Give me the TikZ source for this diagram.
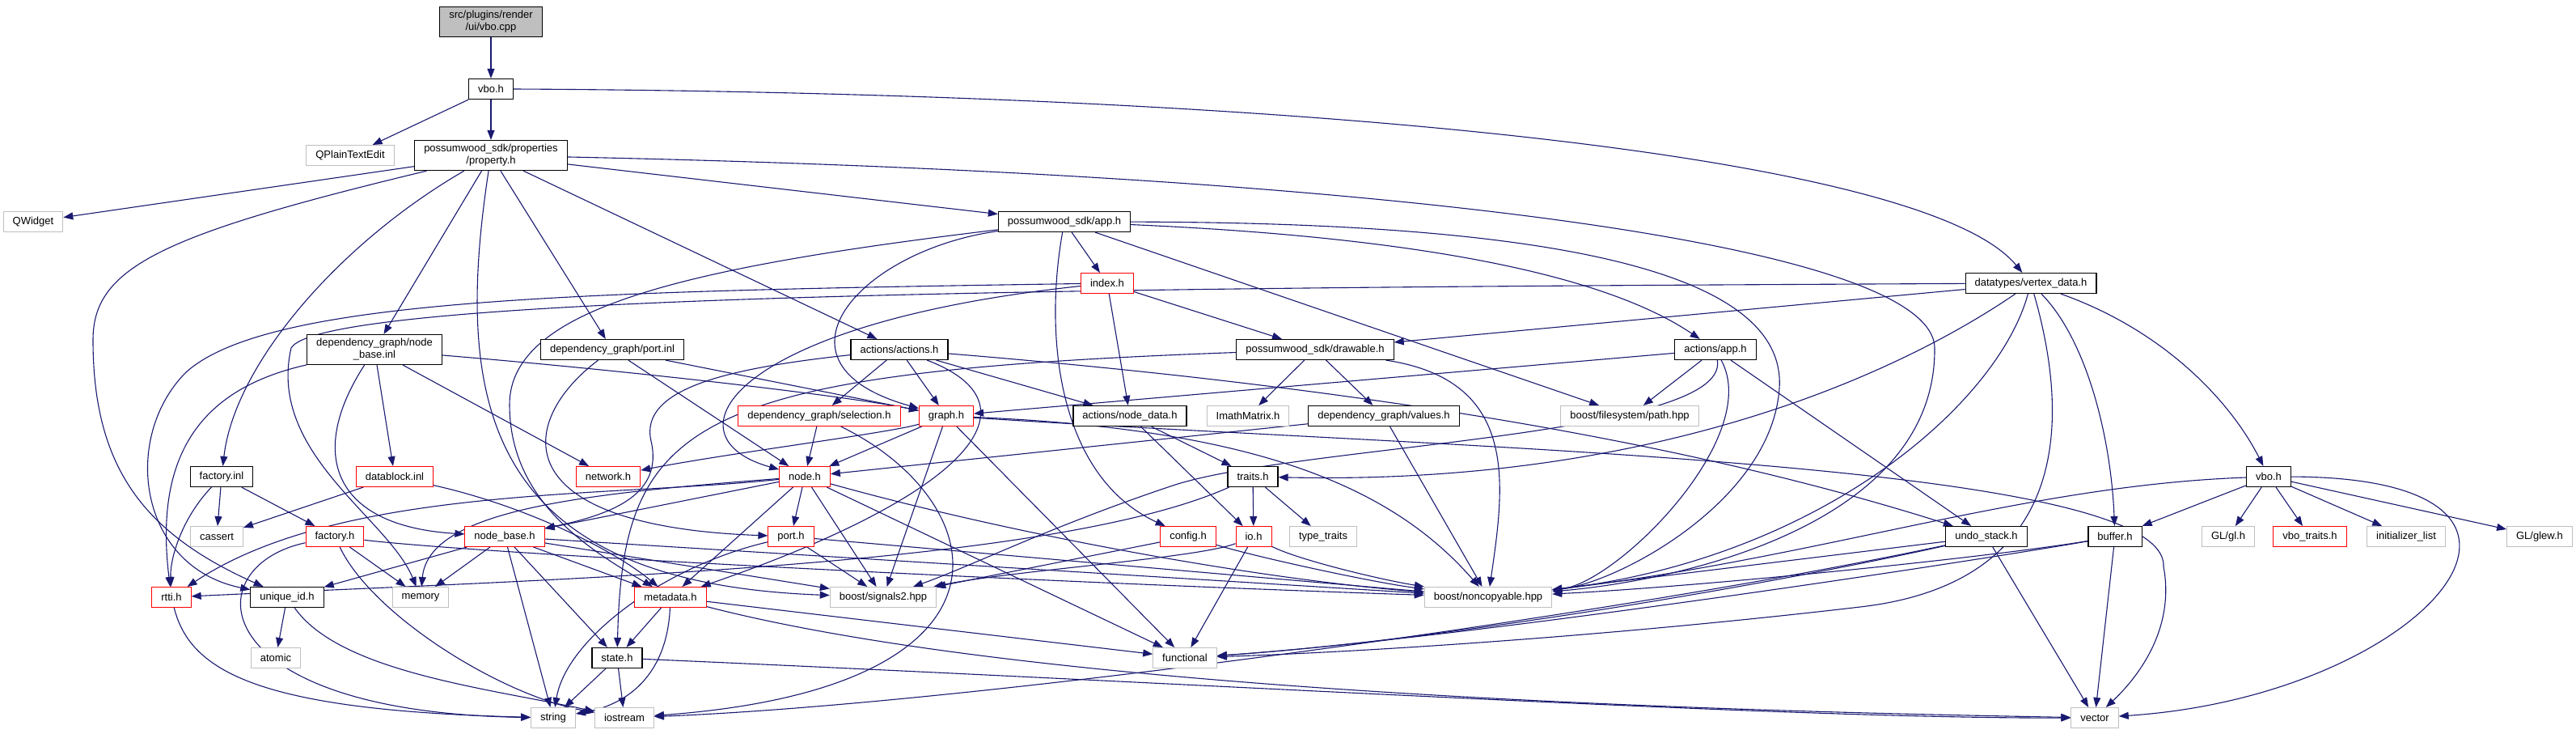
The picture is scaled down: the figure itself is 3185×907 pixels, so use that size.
\documentclass[tikz,border=0pt]{standalone}
\usepackage{fontspec}
\setmainfont{Liberation Sans}
\usetikzlibrary{arrows.meta,backgrounds}
\definecolor{incblue}{RGB}{25,25,112}
\definecolor{missred}{RGB}{255,0,0}
\definecolor{sysgray}{RGB}{191,191,191}

\begin{document}
\begin{tikzpicture}[
  x=1pt, y=-1pt,
  every node/.style={font=\fontsize{13}{15}\selectfont},
  hbox/.style={fill=white, align=center, inner xsep=11.5pt, inner ysep=5pt, minimum height=25pt},
  hfile/.style={hbox, draw=black, line width=1.2pt},
  hred/.style={hbox, draw=missred, line width=1pt},
  hsys/.style={hbox, draw=sysgray, line width=1pt},
  hroot/.style={hfile, fill=sysgray},
  incl/.style={->, draw=incblue, line width=1.1pt},
  >={Triangle[length=12pt,width=9pt]}
]
\useasboundingbox (0,0) rectangle (3185,907);

% files, row by row
\node[hroot] (cpp) at (607,27) {src/plugins/render\\/ui/vbo.cpp};
\node[hfile] (vboA) at (607,110) {vbo.h};
\node[hsys] (qpte) at (433,192) {QPlainTextEdit};
\node[hfile] (prop) at (607,192) {possumwood\_sdk/properties\\/property.h};
\node[hsys] (qwid) at (41,274) {QWidget};
\node[hfile] (app) at (1316,274) {possumwood\_sdk/app.h};
\node[hred] (index) at (1369,350) {index.h};
\node[hfile] (vertex) at (2511,350) {datatypes/vertex\_data.h};
\node[hfile] (nbinl) at (463,432) {dependency\_graph/node\\\_base.inl};
\node[hfile] (portinl) at (757,432) {dependency\_graph/port.inl};
\node[hfile] (actions) at (1112,432) {actions/actions.h};
\node[hfile] (drawable) at (1626,432) {possumwood\_sdk/drawable.h};
\node[hfile] (actapp) at (2121,432) {actions/app.h};
\node[hred] (sel) at (1013,514) {dependency\_graph/selection.h};
\node[hred] (graph) at (1170,514) {graph.h};
\node[hfile] (nodedata) at (1397,514) {actions/node\_data.h};
\node[hsys] (imath) at (1543,514) {ImathMatrix.h};
\node[hfile] (values) at (1711,514) {dependency\_graph/values.h};
\node[hsys] (fspath) at (2015,514) {boost/filesystem/path.hpp};
\node[hfile] (factinl) at (274,589) {factory.inl};
\node[hred] (dbinl) at (488,589) {datablock.inl};
\node[hred] (network) at (752,589) {network.h};
\node[hred] (node) at (995,589) {node.h};
\node[hfile] (traits) at (1549,589) {traits.h};
\node[hfile] (vbotwo) at (2805,589) {vbo.h};
\node[hsys] (cassert) at (268,663) {cassert};
\node[hred] (facth) at (414,663) {factory.h};
\node[hred] (nbh) at (624,663) {node\_base.h};
\node[hred] (porth) at (978,663) {port.h};
\node[hred] (config) at (1469,663) {config.h};
\node[hred] (io) at (1550,663) {io.h};
\node[hsys] (typetraits) at (1636,663) {type\_traits};
\node[hfile] (undo) at (2456,663) {undo\_stack.h};
\node[hfile] (buffer) at (2615,663) {buffer.h};
\node[hsys] (glh) at (2755,663) {GL/gl.h};
\node[hred] (vbotraits) at (2856,663) {vbo\_traits.h};
\node[hsys] (initlist) at (2975,663) {initializer\_list};
\node[hsys] (glew) at (3140,663) {GL/glew.h};
\node[hred] (rtti) at (212,738) {rtti.h};
\node[hfile] (uid) at (355,738) {unique\_id.h};
\node[hsys] (memory) at (520,738) {memory};
\node[hred] (metadata) at (829,738) {metadata.h};
\node[hsys] (signals) at (1092,738) {boost/signals2.hpp};
\node[hsys] (noncopy) at (1840,738) {boost/noncopyable.hpp};
\node[hsys] (atomic) at (341,813) {atomic};
\node[hfile] (state) at (763,813) {state.h};
\node[hsys] (functional) at (1465,813) {functional};
\node[hsys] (string) at (684,887) {string};
\node[hsys] (iostream) at (772,887) {iostream};
\node[hsys] (vector) at (2590,887) {vector};

\begin{scope}[on background layer]
% top of the graph
\draw[incl] (cpp) -- (vboA);
\draw[incl] (vboA) -- (qpte);
\draw[incl] (vboA) -- (prop);
\draw[incl] (vboA.east) .. controls (1600,115) and (2380,190) .. (vertex);
% property.h
\draw[incl] (prop) -- (qwid);
\draw[incl] (prop) .. controls (200,290) and (115,330) .. (115,420) .. controls (115,580) and (180,660) .. (uid);
\draw[incl] (prop) .. controls (420,300) and (290,450) .. (factinl);
\draw[incl] (prop) -- (nbinl);
\draw[incl] (prop) .. controls (560,500) and (600,720) .. (signals);
\draw[incl] (prop) -- (portinl);
\draw[incl] (prop) -- (actions);
\draw[incl] (prop) -- (app);
\draw[incl] (prop) .. controls (1700,215) and (2390,300) .. (2392,430) .. controls (2394,640) and (2100,715) .. (noncopy);
% app.h
\draw[incl] (app) -- (index);
\draw[incl] (app) .. controls (1060,310) and (940,450) .. (graph);
\draw[incl] (app) .. controls (1290,420) and (1310,590) .. (config);
\draw[incl] (app) -- (fspath);
\draw[incl] (app) .. controls (1800,295) and (2000,350) .. (actapp);
\draw[incl] (app) .. controls (1900,275) and (2210,330) .. (2200,480) .. controls (2190,620) and (2000,720) .. (noncopy);
\draw[incl] (app) .. controls (850,330) and (630,380) .. (630,500) .. controls (630,620) and (730,680) .. (metadata);
% index.h
\draw[incl] (index) .. controls (700,360) and (330,370) .. (230,460) .. controls (150,540) and (170,700) .. (uid);
\draw[incl] (index) .. controls (900,400) and (820,540) .. (node);
\draw[incl] (index) -- (nodedata);
\draw[incl] (index) -- (drawable);
% vertex_data.h
\draw[incl] (vertex) .. controls (1500,355) and (400,360) .. (360,430) .. controls (330,560) and (480,640) .. (memory);
\draw[incl] (vertex) -- (drawable);
\draw[incl] (vertex) .. controls (2350,460) and (2050,600) .. (traits);
\draw[incl] (vertex) .. controls (2470,500) and (2250,690) .. (noncopy);
\draw[incl] (vertex) .. controls (2560,520) and (2560,720) .. (2300,750) .. controls (2000,785) and (1700,805) .. (functional);
\draw[incl] (vertex) .. controls (2580,420) and (2610,540) .. (buffer);
\draw[incl] (vertex) .. controls (2680,410) and (2760,500) .. (vbotwo);
% vbo.h of the plugin
\draw[incl] (vbotwo) -- (buffer);
\draw[incl] (vbotwo) -- (glh);
\draw[incl] (vbotwo) -- (vbotraits);
\draw[incl] (vbotwo) -- (initlist);
\draw[incl] (vbotwo) -- (glew);
\draw[incl] (vbotwo) .. controls (3230,590) and (3000,860) .. (vector);
\draw[incl] (vbotwo) .. controls (2500,600) and (2250,690) .. (noncopy);
\draw[incl] (buffer) .. controls (2450,690) and (2100,725) .. (noncopy);
\draw[incl] (buffer) .. controls (2400,700) and (1800,790) .. (functional);
\draw[incl] (buffer) -- (vector);
\draw[incl] (undo) -- (noncopy);
\draw[incl] (undo) .. controls (2200,720) and (1800,790) .. (functional);
\draw[incl] (undo) .. controls (2000,760) and (1200,870) .. (iostream);
\draw[incl] (undo) -- (vector);
% actions
\draw[incl] (actapp) -- (graph);
\draw[incl] (actapp) -- (fspath);
\draw[incl] (actapp) -- (undo);
\draw[incl] (actapp) .. controls (2140,540) and (1600,550) .. (1450,600) .. controls (1300,650) and (1200,700) .. (signals);
\draw[incl] (actapp) .. controls (2180,540) and (2000,720) .. (noncopy);
\draw[incl] (actions) -- (sel);
\draw[incl] (actions) -- (graph);
\draw[incl] (actions) -- (nodedata);
\draw[incl] (actions) .. controls (1700,480) and (2100,550) .. (undo);
\draw[incl] (actions) .. controls (1290,500) and (1200,610) .. (metadata);
\draw[incl] (actions) .. controls (900,455) and (790,480) .. (805,545) .. controls (820,610) and (760,635) .. (nbh);
% dependency_graph
\draw[incl] (nbinl) .. controls (250,480) and (190,560) .. (rtti);
\draw[incl] (nbinl) .. controls (380,560) and (410,650) .. (nbh);
\draw[incl] (nbinl) -- (dbinl);
\draw[incl] (nbinl) -- (network);
\draw[incl] (nbinl) .. controls (800,460) and (1050,490) .. (graph);
\draw[incl] (portinl) .. controls (640,520) and (620,650) .. (porth);
\draw[incl] (portinl) -- (node);
\draw[incl] (portinl) -- (graph);
\draw[incl] (sel) -- (node);
\draw[incl] (sel) .. controls (1230,620) and (1280,850) .. (iostream);
\draw[incl] (graph) .. controls (1100,535) and (900,560) .. (network);
\draw[incl] (graph) -- (node);
\draw[incl] (graph) -- (signals);
\draw[incl] (graph) -- (functional);
\draw[incl] (graph) .. controls (1550,530) and (1720,600) .. (noncopy);
\draw[incl] (graph) .. controls (1800,555) and (2680,570) .. (2675,700) .. controls (2690,780) and (2640,840) .. (vector);
\draw[incl] (nodedata) -- (traits);
\draw[incl] (nodedata) -- (io);
\draw[incl] (values) -- (node);
\draw[incl] (values) -- (noncopy);
\draw[incl] (drawable) .. controls (850,460) and (770,520) .. (state);
\draw[incl] (drawable) -- (imath);
\draw[incl] (drawable) -- (values);
\draw[incl] (drawable) .. controls (1880,470) and (1860,600) .. (noncopy);
\draw[incl] (traits) -- (io);
\draw[incl] (traits) -- (typetraits);
\draw[incl] (traits) .. controls (1300,700) and (700,715) .. (rtti);
\draw[incl] (config) -- (signals);
\draw[incl] (config) .. controls (1560,690) and (1700,720) .. (noncopy);
\draw[incl] (io) .. controls (1480,690) and (1250,705) .. (signals);
\draw[incl] (io) .. controls (1600,690) and (1700,715) .. (noncopy);
\draw[incl] (io) -- (functional);
% node.h
\draw[incl] (node) -- (nbh);
\draw[incl] (node) .. controls (750,615) and (420,600) .. (rtti);
\draw[incl] (node) .. controls (720,610) and (530,630) .. (memory);
\draw[incl] (node) -- (porth);
\draw[incl] (node) -- (signals);
\draw[incl] (node) -- (metadata);
\draw[incl] (node) -- (functional);
\draw[incl] (node) .. controls (1250,660) and (1550,715) .. (noncopy);
% node_base.h, port.h, factory
\draw[incl] (nbh) -- (uid);
\draw[incl] (nbh) -- (memory);
\draw[incl] (nbh) -- (string);
\draw[incl] (nbh) -- (state);
\draw[incl] (nbh) -- (metadata);
\draw[incl] (nbh) -- (signals);
\draw[incl] (nbh) -- (noncopy);
\draw[incl] (porth) .. controls (820,700) and (700,790) .. (string);
\draw[incl] (porth) -- (signals);
\draw[incl] (porth) -- (noncopy);
\draw[incl] (factinl) -- (cassert);
\draw[incl] (factinl) -- (facth);
\draw[incl] (factinl) .. controls (225,640) and (210,690) .. (rtti);
\draw[incl] (dbinl) -- (cassert);
\draw[incl] (dbinl) .. controls (650,625) and (760,680) .. (metadata);
\draw[incl] (facth) -- (memory);
\draw[incl] (facth) .. controls (240,700) and (250,880) .. (string);
\draw[incl] (facth) .. controls (460,760) and (620,860) .. (iostream);
\draw[incl] (facth) .. controls (600,685) and (1300,720) .. (noncopy);
% bottom rows
\draw[incl] (metadata) -- (state);
\draw[incl] (metadata) .. controls (825,830) and (780,870) .. (string);
\draw[incl] (metadata) -- (functional);
\draw[incl] (metadata) .. controls (1300,860) and (2200,880) .. (vector);
\draw[incl] (state) -- (string);
\draw[incl] (state) -- (iostream);
\draw[incl] (state) .. controls (1500,845) and (2200,888) .. (vector);
\draw[incl] (uid) -- (atomic);
\draw[incl] (uid) .. controls (420,830) and (600,850) .. (iostream);
\draw[incl] (rtti) .. controls (235,830) and (320,878) .. (string);
\end{scope}

\end{tikzpicture}
\end{document}
